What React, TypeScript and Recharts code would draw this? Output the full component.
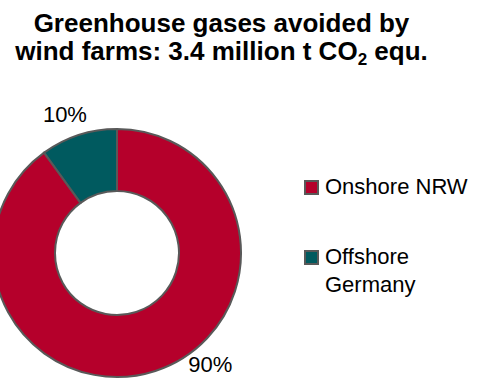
import { PieChart, Pie, Cell } from "recharts";

const sources = ["Onshore NRW", "Offshore Germany"];
const shares = [90, 10];
const colors = ["#B5002B", "#005A5F"];

const data = sources.map((name, i) => ({ name, value: shares[i] }));

const FONT = '"Liberation Sans", Arial, sans-serif';

const renderLabel = (props: any) => {
  const { cx, cy, midAngle, outerRadius, percent, index } = props;
  // nudge labels the way the original tool placed them
  const angle = index === 0 ? midAngle + 22 : midAngle + 2.6;
  const r = outerRadius + (index === 0 ? 21 : 24);
  const rad = (-angle * Math.PI) / 180;
  const x = cx + r * Math.cos(rad);
  const y = cy + r * Math.sin(rad);
  return (
    <text
      x={x}
      y={y}
      textAnchor="middle"
      dominantBaseline="central"
      fill="#000"
      style={{ fontSize: 22, fontFamily: FONT }}
    >
      {`${Math.round(percent * 100)}%`}
    </text>
  );
};

const LegendBox = () => (
  <div
    style={{
      position: "absolute",
      left: 304,
      top: 173,
      width: 177,
      fontFamily: FONT,
      fontSize: 22,
      lineHeight: "28px",
    }}
  >
    {data.map((d, i) => (
      <div
        key={d.name}
        style={{ display: "flex", alignItems: "flex-start", marginBottom: 42 }}
      >
        <span
          style={{
            width: 11,
            height: 11,
            marginTop: 7,
            marginRight: 6,
            background: colors[i],
            border: "2px solid #595959",
            flexShrink: 0,
          }}
        />
        <span style={{ width: 152, color: "#000" }}>{d.name}</span>
      </div>
    ))}
  </div>
);

const App = () => {
  return (
    <div
      style={{
        position: "absolute",
        left: 0,
        top: 0,
        width: 481,
        height: 381,
        background: "#fff",
        overflow: "hidden",
      }}
    >
      <div
        style={{
          position: "absolute",
          left: 0,
          top: 9,
          width: 443,
          textAlign: "center",
          fontFamily: FONT,
          fontWeight: "bold",
          fontSize: 26,
          lineHeight: "28px",
          color: "#000",
        }}
      >
        Greenhouse gases avoided by
        <br />
        wind farms: 3.4 million t CO
        <sub style={{ fontSize: 17, verticalAlign: "-5px", lineHeight: 0 }}>2</sub> equ.
      </div>
      <PieChart width={481} height={381} style={{ position: "absolute", left: 0, top: 0 }}>
        <Pie
          data={data}
          dataKey="value"
          nameKey="name"
          cx={112}
          cy={248}
          innerRadius={62}
          outerRadius={124}
          startAngle={90}
          endAngle={-270}
          stroke="#595959"
          strokeWidth={2}
          label={renderLabel}
          labelLine={false}
          isAnimationActive={false}
        >
          {data.map((d, i) => (
            <Cell key={d.name} fill={colors[i]} />
          ))}
        </Pie>
      </PieChart>
      <LegendBox />
    </div>
  );
};

export default App;
